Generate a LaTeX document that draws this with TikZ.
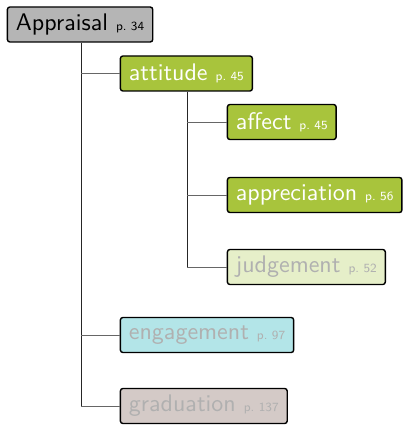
\documentclass[tikz,border=0pt]{standalone}
\usepackage{xcolor}
\usepackage{fontspec}
\usepackage{tikz}
\usetikzlibrary{positioning}
\newfontfamily\bigsans{lmsans10-regular.otf}
\newfontfamily\smallsans{lmsans8-regular.otf}
\definecolor{rootgray}{HTML}{B5B5B5}
\definecolor{olive}{HTML}{A8C43C}
\definecolor{paleolive}{HTML}{E6EFC9}
\definecolor{palecyan}{HTML}{B3E5E8}
\definecolor{paletaupe}{HTML}{D4CAC7}
\definecolor{dimtext}{HTML}{B0B0B0}
\tikzstyle{topic} = [rectangle, rounded corners=2.5pt, draw=black, line width=1.4pt,
minimum height=35pt, inner xsep=8.5pt, anchor=west, font=\bigsans\fontsize{24}{28}\selectfont]
\tikzstyle{rootbox} = [topic, fill=rootgray, text=black]
\tikzstyle{active} = [topic, fill=olive, text=white]
\tikzstyle{judgebox} = [topic, fill=paleolive, text=dimtext]
\tikzstyle{engagebox} = [topic, fill=palecyan, text=dimtext]
\tikzstyle{gradbox} = [topic, fill=paletaupe, text=dimtext]
\tikzstyle{trunk} = [line width=0.9pt, black!85]
\tikzstyle{twig} = [line width=0.9pt, black!60]
\newcommand{\pg}[1]{ {\smallsans\fontsize{12.5}{14}\selectfont p.~#1}}

\begin{document}
\begin{tikzpicture}[x=1pt, y=-1pt]
                 \useasboundingbox (0,0) rectangle (403,425);
                 \node (root) [rootbox] at (6.7,24.5) {Appraisal\pg{34}};
                 \node (att) [active] at (119.7,73.5) {attitude\pg{45}};
                 \node (aff) [active] at (226.7,122) {affect\pg{45}};
                 \node (app) [active] at (226.7,195) {appreciation\pg{56}};
                 \node (jud) [judgebox] at (226.7,267) {judgement\pg{52}};
                 \node (eng) [engagebox] at (119.7,335) {engagement\pg{97}};
                 \node (grad) [gradbox] at (119.7,406) {graduation\pg{137}};
                 \coordinate (t1) at (81,0);
                 \coordinate (t2) at (187,0);
                 \draw [trunk] (root.south -| t1) -- (t1 |- grad.west);
                 \draw [twig] (t1 |- att.west) -- (att.west);
                 \draw [twig] (t1 |- eng.west) -- (eng.west);
                 \draw [twig] (t1 |- grad.west) -- (grad.west);
                 \draw [trunk] (att.south -| t2) -- (t2 |- jud.west);
                 \draw [twig] (t2 |- aff.west) -- (aff.west);
                 \draw [twig] (t2 |- app.west) -- (app.west);
                 \draw [twig] (t2 |- jud.west) -- (jud.west);
             \end{tikzpicture}
\end{document}
